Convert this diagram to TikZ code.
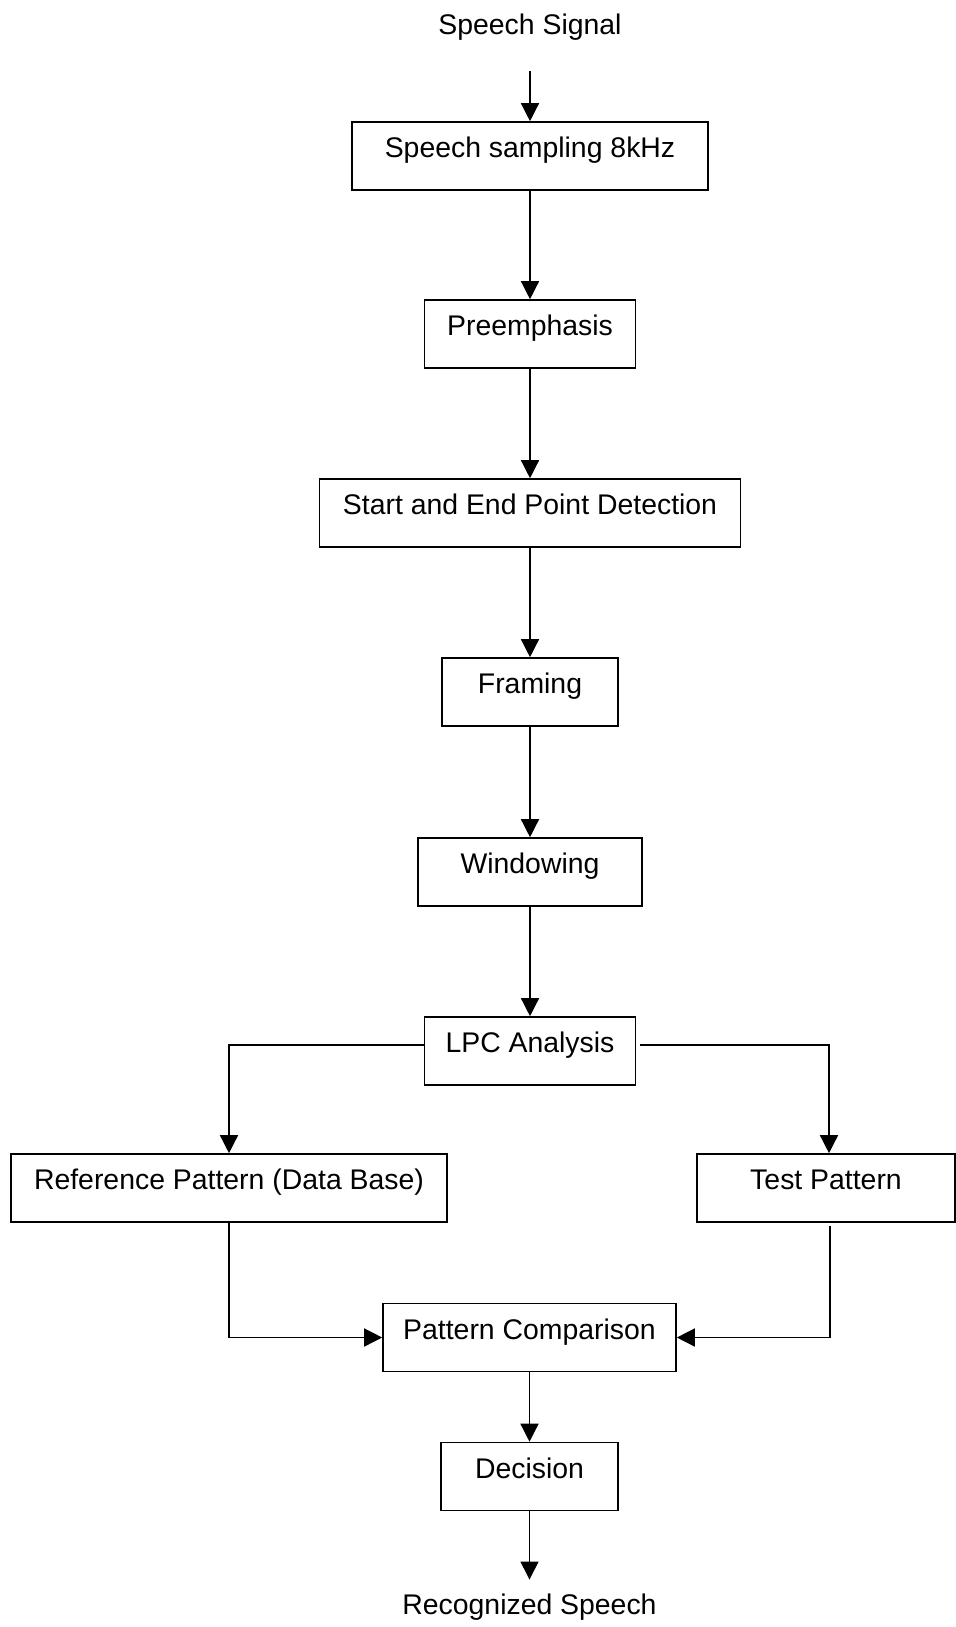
\documentclass[tikz,border=0pt]{standalone}
\usepackage{fontspec}
\setmainfont{Liberation Sans}
\usetikzlibrary{arrows.meta}

\begin{document}
\begin{tikzpicture}[
		x=0.5pt, y=-0.5pt,
		box/.style={draw, line width=0.8pt, minimum height=34pt, inner sep=0pt,
			text height=10pt, text depth=8.5pt, font=\fontsize{14.2pt}{17pt}\selectfont},
		lbl/.style={inner sep=0pt, anchor=base, font=\fontsize{14.2pt}{17pt}\selectfont},
		arr/.style={-{Triangle[length=9pt,width=9pt]}, line width=0.7pt}
		]
		\useasboundingbox (0,0) rectangle (956,1627);
		
		% ===== input =====
		\node[lbl] (sig) at (530,35) {Speech Signal};
		
		% ===== main chain =====
		\foreach \txt/\w/\y [count=\i from 1] in {Speech sampling 8kHz/178pt/156, Preemphasis/105.5pt/334, Start and End Point Detection/210.5pt/513, Framing/88pt/692, Windowing/112pt/872, LPC Analysis/105.5pt/1051}{
			\node[box, minimum width=\w] (B\i) at (530,\y) {\txt};
		}
		
		% ===== patterns and comparison =====
		\node[box, minimum width=218pt] (ref) at (229,1188) {Reference Pattern (Data Base)};
		\node[box, minimum width=129pt] (test) at (826,1188) {Test Pattern};
		\node[box, minimum width=146.5pt] (comp) at (529.5,1337.5) {Pattern Comparison};
		\node[box, minimum width=88.5pt] (dec) at (529.5,1476.5) {Decision};
		\node[lbl] (out) at (529.5,1614) {Recognized Speech};
		
		% ===== arrows =====
		\draw[arr, shorten <=15pt] (sig.south) -- (B1.north);
		\foreach \i/\j in {1/2,2/3,3/4,4/5,5/6}{
			\draw[arr] (B\i) -- (B\j);
		}
		\draw[arr] ([yshift=3pt]B6.west) -| (ref.north);
		\draw[arr, shorten <=2pt] ([yshift=3pt]B6.east) -| ([xshift=1.5pt]test.north);
		\draw[arr] (ref.south) |- (comp.west);
		\draw[arr, shorten <=1.5pt] ([xshift=2pt]test.south) |- (comp.east);
		\draw[arr] (comp) -- (dec);
		\draw[arr, shorten >=6.75pt] (dec.south) -- (out.north);
		
	\end{tikzpicture}
\end{document}
